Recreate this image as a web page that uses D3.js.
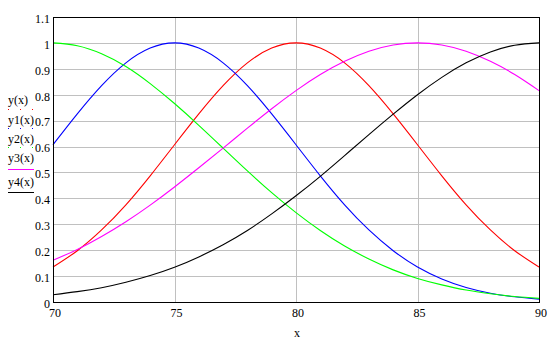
<!DOCTYPE html>
<html>
<head>
<meta charset="utf-8">
<script src="https://cdn.jsdelivr.net/npm/d3@7"></script>
<style>
  html, body { margin: 0; padding: 0; background: #ffffff; }
  svg { display: block; }
  text { font-family: "Liberation Serif", "Times New Roman", serif; fill: #000; }
</style>
</head>
<body>
<svg id="chart" width="553" height="345"></svg>
<script>
// x samples (one per unit step)
const xs = [70, 71, 72, 73, 74, 75, 76, 77, 78, 79, 80, 81, 82, 83, 84, 85, 86, 87, 88, 89, 90];

// y(x)  - red
const yRed = [0.135, 0.198, 0.278, 0.375, 0.487, 0.607, 0.726, 0.835, 0.923, 0.980, 1.000,
              0.980, 0.923, 0.835, 0.726, 0.607, 0.487, 0.375, 0.278, 0.198, 0.135];
// y1(x) - blue
const yBlue = [0.607, 0.726, 0.835, 0.923, 0.980, 1.000, 0.980, 0.923, 0.835, 0.726, 0.607,
               0.487, 0.375, 0.278, 0.198, 0.135, 0.089, 0.056, 0.034, 0.020, 0.011];
// y2(x) - green
const yGreen = [1.000, 0.989, 0.958, 0.909, 0.843, 0.766, 0.682, 0.594, 0.506, 0.422, 0.345,
                0.276, 0.216, 0.166, 0.124, 0.091, 0.066, 0.046, 0.032, 0.021, 0.014];
// y3(x) - magenta
const yMagenta = [0.161, 0.203, 0.253, 0.310, 0.374, 0.444, 0.518, 0.594, 0.671, 0.746, 0.816,
                  0.878, 0.929, 0.968, 0.992, 1.000, 0.992, 0.968, 0.929, 0.878, 0.816];
// y4(x) - black
const yBlack = [0.028, 0.040, 0.055, 0.076, 0.102, 0.134, 0.174, 0.221, 0.276, 0.340, 0.410,
                0.485, 0.565, 0.646, 0.725, 0.800, 0.867, 0.923, 0.965, 0.991, 1.000];

const seriesNames = ["y(x)", "y1(x)", "y2(x)", "y3(x)", "y4(x)"];
const seriesColors = ["#ff0000", "#0000ff", "#00ff00", "#ff00ff", "#000000"];
const seriesDash = ["1 11", "1 11", "1 11", null, null];
const seriesValues = [yRed, yBlue, yGreen, yMagenta, yBlack];

const xTicks = [70, 75, 80, 85, 90];
const yTicks = [0, 0.1, 0.2, 0.3, 0.4, 0.5, 0.6, 0.7, 0.8, 0.9, 1, 1.1];
const xTitle = "x";

const svg = d3.select("#chart");
const plotLeft = 53, plotRight = 539, plotTop = 17, plotBottom = 302;
const fontSize = "12px";

const x = d3.scaleLinear().domain([70, 90]).range([plotLeft, plotRight]);
const y = d3.scaleLinear().domain([0, 1.1]).range([plotBottom, plotTop]);

// grid
const grid = svg.append("g").attr("shape-rendering", "crispEdges")
  .attr("stroke", "#c0c0c0").attr("stroke-width", 1);
grid.selectAll("line.h").data(yTicks.filter(v => v > 0 && v < 1.1)).join("line")
  .attr("class", "h")
  .attr("x1", plotLeft).attr("x2", plotRight)
  .attr("y1", d => Math.round(y(d)) + 0.5).attr("y2", d => Math.round(y(d)) + 0.5);
grid.selectAll("line.v").data(xTicks.filter(v => v > 70 && v < 90)).join("line")
  .attr("class", "v")
  .attr("y1", plotTop).attr("y2", plotBottom)
  .attr("x1", d => Math.round(x(d)) + 0.5).attr("x2", d => Math.round(x(d)) + 0.5);

// curves
const line = d3.line()
  .x((d, i) => x(xs[i]))
  .y(d => y(d))
  .curve(d3.curveNatural);

const plot = svg.append("g");
seriesValues.forEach((vals, k) => {
  plot.append("path")
    .datum(vals)
    .attr("fill", "none")
    .attr("stroke", seriesColors[k])
    .attr("stroke-width", 1.1)
    .attr("d", line);
});

// frame
svg.append("rect")
  .attr("x", plotLeft + 0.5).attr("y", plotTop + 0.5)
  .attr("width", plotRight - plotLeft).attr("height", plotBottom - plotTop)
  .attr("fill", "none").attr("stroke", "#000").attr("stroke-width", 1)
  .attr("shape-rendering", "crispEdges");

// x axis labels
const xAxis = d3.axisBottom(x).tickValues(xTicks).tickSize(0).tickPadding(0)
  .tickFormat(d3.format("d"));
const gx = svg.append("g").attr("transform", `translate(1.5,${plotBottom})`).call(xAxis);
gx.select(".domain").remove();
gx.selectAll("text")
  .attr("y", 0).attr("dy", null)
  .attr("transform", "translate(0,15)")
  .style("font-family", "'Liberation Serif', serif")
  .style("font-size", fontSize)
  .attr("fill", "#000");

// y axis labels
const yAxis = d3.axisLeft(y).tickValues(yTicks).tickSize(0).tickPadding(0)
  .tickFormat(d3.format("~g"));
const gy = svg.append("g").attr("transform", `translate(50,1.5)`).call(yAxis);
gy.select(".domain").remove();
gy.selectAll("text")
  .style("font-family", "'Liberation Serif', serif")
  .style("font-size", fontSize)
  .attr("fill", "#000");

// x title
svg.append("text")
  .attr("x", 297).attr("y", 337)
  .attr("text-anchor", "middle")
  .style("font-size", fontSize)
  .text(xTitle);

// legend
const legendBase = [104, 124, 143, 162, 186];
const legendLine = [109.5, 128.5, 147.5, 169.5, 192.5];
const legend = svg.append("g");
seriesNames.forEach((name, k) => {
  legend.append("text")
    .attr("x", 8).attr("y", legendBase[k])
    .style("font-size", fontSize)
    .text(name);
  const ln = legend.append("line")
    .attr("x1", 8).attr("x2", 34)
    .attr("y1", legendLine[k]).attr("y2", legendLine[k])
    .attr("stroke", seriesColors[k]).attr("stroke-width", 1)
    .attr("shape-rendering", "crispEdges");
  if (seriesDash[k]) ln.attr("stroke-dasharray", seriesDash[k]);
});
</script>
</body>
</html>
